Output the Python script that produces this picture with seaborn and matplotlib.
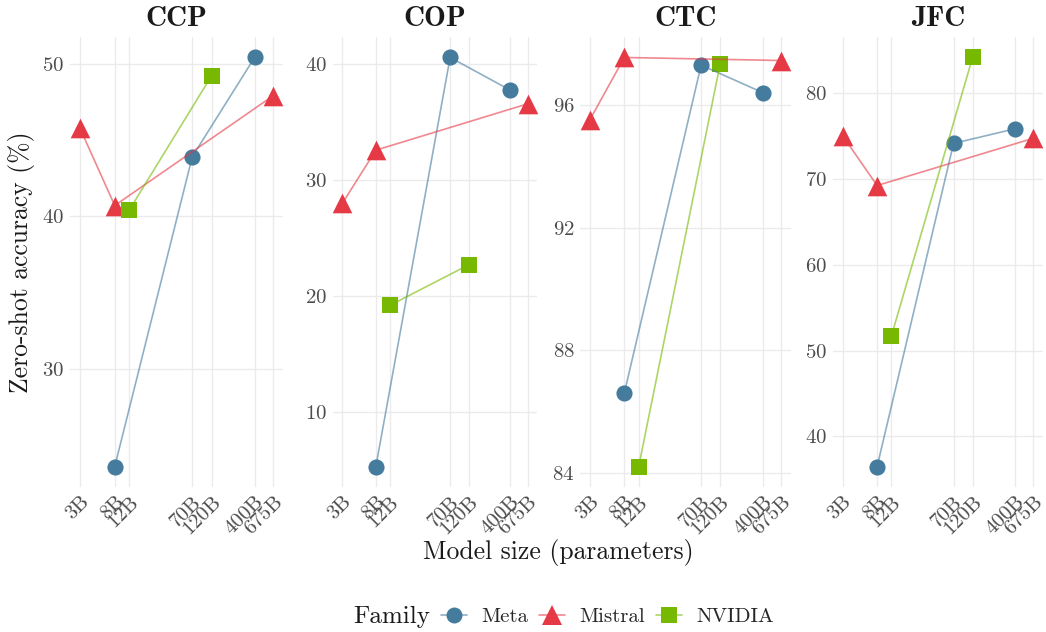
import pandas as pd
import matplotlib
matplotlib.use('Agg')
import matplotlib.pyplot as plt
from matplotlib.lines import Line2D
from matplotlib.ticker import MultipleLocator, NullLocator
from matplotlib.colors import to_rgba
import seaborn as sns

tasks = ['CCP', 'COP', 'CTC', 'JFC']
families = ['Meta', 'Mistral', 'NVIDIA']
size_ticks = [3, 8, 12, 70, 120, 400, 675]
size_labels = ['3B', '8B', '12B', '70B', '120B', '400B', '675B']

meta_sizes = [8, 70, 400]
mistral_sizes = [3, 8, 675]
nvidia_sizes = [12, 120]

# accuracy (%) per task, same order as `tasks`
meta_acc = [[23.6, 43.9, 50.4], [5.3, 40.6, 37.8], [86.6, 97.3, 96.4], [36.5, 74.1, 75.8]]
mistral_acc = [[45.8, 40.7, 47.9], [28.0, 32.6, 36.6], [95.5, 97.55, 97.45], [75.0, 69.2, 74.7]]
nvidia_acc = [[40.4, 49.2], [19.2, 22.7], [84.2, 97.35], [51.7, 84.1]]

rows = []
for fam, sizes, accs in [('Meta', meta_sizes, meta_acc),
                         ('Mistral', mistral_sizes, mistral_acc),
                         ('NVIDIA', nvidia_sizes, nvidia_acc)]:
    for task, vals in zip(tasks, accs):
        for s, v in zip(sizes, vals):
            rows.append({'task': task, 'family': fam, 'size': s, 'acc': v})
df = pd.DataFrame(rows)

palette = {'Meta': '#457B9D', 'Mistral': '#E63946', 'NVIDIA': '#76B900'}
markers = {'Meta': 'o', 'Mistral': '^', 'NVIDIA': 's'}
msize = {'Meta': 135, 'Mistral': 200, 'NVIDIA': 125}

sns.set_theme(style='whitegrid')
plt.rcParams['font.family'] = 'serif'
plt.rcParams['font.serif'] = ['cmr10']
plt.rcParams['mathtext.fontset'] = 'cm'
plt.rcParams['axes.unicode_minus'] = False
plt.rcParams['axes.formatter.use_mathtext'] = True

W, H = 1046, 632
fig = plt.figure(figsize=(W / 100, H / 100), dpi=100)
fig.patch.set_facecolor('white')

panel_x = [(70, 283), (333, 537), (580, 791), (833, 1043)]
top, bottom = 37, 487
y_step = [10, 10, 4, 10]

for i, task in enumerate(tasks):
    x0, x1 = panel_x[i]
    ax = fig.add_axes([x0 / W, 1 - bottom / H, (x1 - x0) / W, (bottom - top) / H])
    ax.set_facecolor('white')
    d = df[df.task == task]
    for fam in families:
        sns.scatterplot(data=d[d.family == fam], x='size', y='acc', color=palette[fam],
                        marker=markers[fam], s=msize[fam], linewidth=0,
                        legend=False, ax=ax, zorder=2)
    sns.lineplot(data=d, x='size', y='acc', hue='family', palette=palette,
                 estimator=None, alpha=0.6, lw=1.2, legend=False, ax=ax, zorder=3)
    ax.set_xscale('log')
    ax.margins(x=0.05, y=0.05)
    ax.set_xticks(size_ticks)
    ax.set_xticklabels(size_labels, rotation=45, ha='right', va='top',
                       rotation_mode='anchor')
    ax.xaxis.set_minor_locator(NullLocator())
    ax.yaxis.set_major_locator(MultipleLocator(y_step[i]))
    ax.grid(True, color='#EBEBEB', lw=1.0)
    ax.grid(False, which='minor')
    for sp in ax.spines.values():
        sp.set_visible(False)
    ax.tick_params(length=0, labelsize=15, labelcolor='#4D4D4D', pad=4)
    ax.set_xlabel('')
    ax.set_ylabel('')
    ax.set_title(task, fontfamily='cmb10', fontsize=21, pad=8, color='#1A1A1A')
    if i == 0:
        ax.set_ylabel('Zero-shot accuracy (%)', fontsize=18.5, labelpad=5, color='#1A1A1A')

fig.text(558 / W, 1 - 553 / H, 'Model size (parameters)', fontsize=18.5,
         ha='center', va='center', color='#1A1A1A')

# legend along the bottom, title on the left
fig.text(353 / W, 1 - 617 / H, 'Family', fontsize=18, ha='left', va='center',
         color='#1A1A1A')
handles = [Line2D([], [], color=to_rgba(palette[f], 0.6), lw=1.2, marker=markers[f],
                  markersize={'Meta': 11.5, 'Mistral': 14, 'NVIDIA': 11}[f],
                  markerfacecolor=palette[f], markeredgewidth=0)
           for f in families]
fig.legend(handles, families, loc='center left', bbox_to_anchor=(441 / W, 1 - 617 / H),
           ncol=3, frameon=False, fontsize=15, handlelength=1.25, handletextpad=0.7,
           columnspacing=0.5, borderpad=0, borderaxespad=0)

fig.savefig('out.png', dpi=100, facecolor='white')
